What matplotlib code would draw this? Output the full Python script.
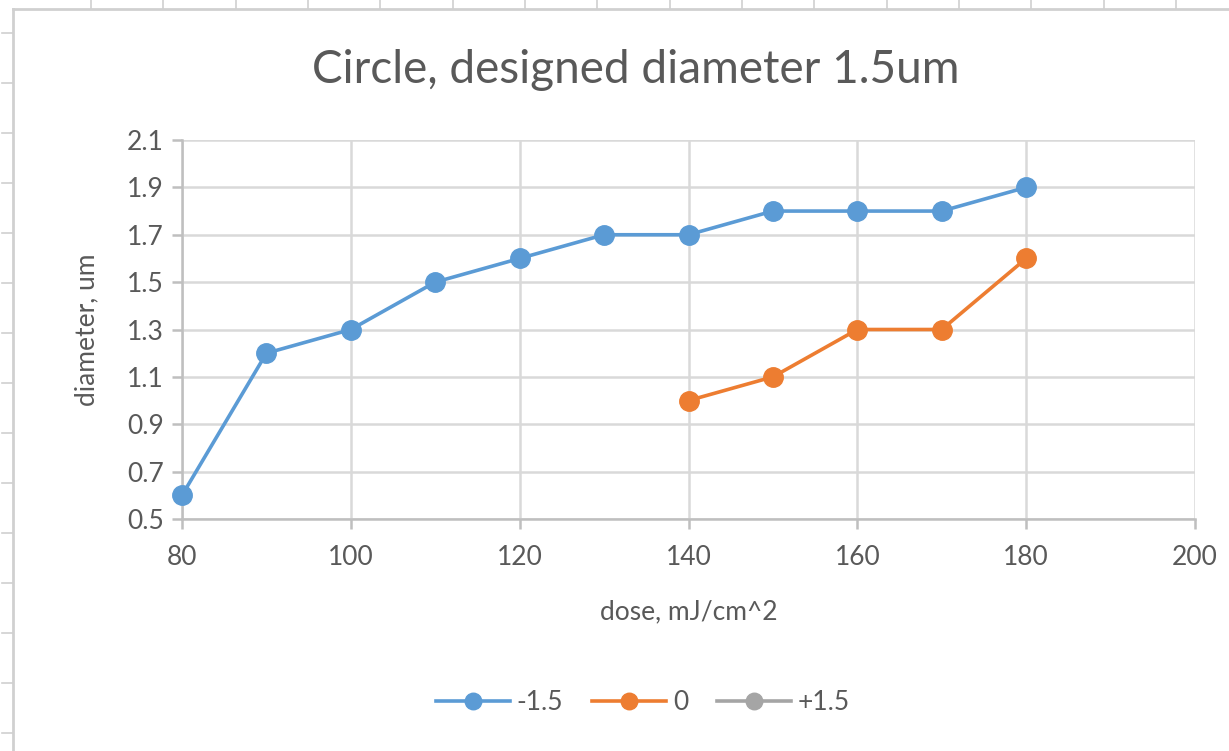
import numpy as np
import matplotlib.pyplot as plt
from matplotlib.lines import Line2D

# data
dose = [80, 90, 100, 110, 120, 130, 140, 150, 160, 170, 180]
diam_m15 = [0.6, 1.2, 1.3, 1.5, 1.6, 1.7, 1.7, 1.8, 1.8, 1.8, 1.9]
dose_0 = [140, 150, 160, 170, 180]
diam_0 = [1.0, 1.1, 1.3, 1.3, 1.6]
dose_p15 = []
diam_p15 = []

series_labels = ['-1.5', '0', '+1.5']
colors = ['#5B9BD5', '#ED7D31', '#A5A5A5']
xticks = [80, 100, 120, 140, 160, 180, 200]
yticks = [0.5, 0.7, 0.9, 1.1, 1.3, 1.5, 1.7, 1.9, 2.1]

W, H = 1229, 751
plt.rcParams['font.family'] = ['Lato', 'DejaVu Sans']
txt = '#595959'

fig = plt.figure(figsize=(W / 100, H / 100), dpi=100)
fig.patch.set_facecolor('white')

# spreadsheet cell borders around the chart object
deco = '#D0D0D0'
fig.add_artist(Line2D([13 / W, 13 / W], [0, 1 - 9 / H], transform=fig.transFigure, color=deco, lw=2))
fig.add_artist(Line2D([13 / W, 1], [1 - 9 / H, 1 - 9 / H], transform=fig.transFigure, color=deco, lw=2))
for yy in np.arange(33, H, 50):
    fig.add_artist(Line2D([2 / W, 13 / W], [1 - yy / H] * 2, transform=fig.transFigure, color=deco, lw=1.2))
for xx in np.arange(91, W, 72.33):
    fig.add_artist(Line2D([xx / W] * 2, [1, 1 - 9 / H], transform=fig.transFigure, color=deco, lw=1.2))

ax = fig.add_axes([182 / W, 1 - 519 / H, (1195 - 182) / W, (519 - 140) / H])

grid_c = '#D9D9D9'
for s in ax.spines.values():
    s.set_visible(False)
ax.spines['left'].set_visible(True)
ax.spines['bottom'].set_visible(True)
ax.spines['left'].set_color('#BFBFBF')
ax.spines['bottom'].set_color('#BFBFBF')
ax.spines['left'].set_linewidth(1.8)
ax.spines['bottom'].set_linewidth(1.8)

ax.set_xlim(80, 200)
ax.set_ylim(0.5, 2.1)
ax.set_xticks(xticks)
ax.set_yticks(yticks)
ax.set_yticklabels([f'{v:.1f}' for v in yticks])
ax.grid(True, color=grid_c, lw=1.8)
ax.set_axisbelow(True)
ax.tick_params(axis='both', direction='out', length=7, width=1.8, color='#BFBFBF',
               labelsize=19, labelcolor=txt)
ax.tick_params(axis='x', pad=12)
ax.tick_params(axis='y', pad=6)

ax.plot(dose, diam_m15, '-o', color=colors[0], lw=2.6, ms=14, label=series_labels[0], clip_on=False, zorder=3)
ax.plot(dose_0, diam_0, '-o', color=colors[1], lw=2.6, ms=14, label=series_labels[1], clip_on=False, zorder=3)
ax.plot(dose_p15, diam_p15, '-o', color=colors[2], lw=2.6, ms=14, label=series_labels[2])

ax.set_xlabel('dose, mJ/cm^2', fontsize=19, color=txt, labelpad=21)
ax.set_ylabel('diameter, um', fontsize=19, color=txt, labelpad=20)
fig.text(636 / W, 1 - 70 / H, 'Circle, designed diameter 1.5um', fontsize=33,
         color=txt, ha='center', va='center')

fig.legend(loc='center', bbox_to_anchor=(643 / W, 1 - 703 / H), ncol=3, frameon=False,
           fontsize=19, labelcolor=txt, handlelength=2.8, columnspacing=1.1,
           handletextpad=0.25, markerscale=0.85)

fig.savefig('out.png', dpi=100, facecolor='white')
